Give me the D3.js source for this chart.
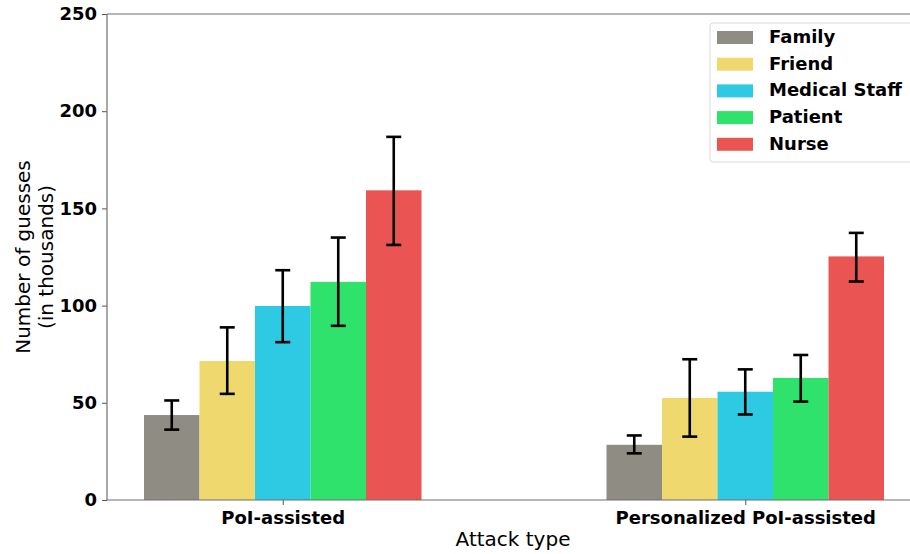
<!DOCTYPE html>
<html>
<head>
<meta charset="utf-8">
<script src="https://cdn.jsdelivr.net/npm/d3@7"></script>
<style>
  body { margin: 0; background: #fff; }
  text { font-family: "DejaVu Sans", sans-serif; }
</style>
</head>
<body>
<svg id="chart" width="910" height="554"></svg>
<script>
// data
var attackTypes = ["PoI-assisted", "Personalized PoI-assisted"];
var roles = ["Family", "Friend", "Medical Staff", "Patient", "Nurse"];
var roleColors = ["#8f8c84", "#efd96e", "#2ec9e3", "#2ee26b", "#ea5553"];
var means = [
  [43.7, 71.5, 99.8, 112.2, 159.3],
  [28.4, 52.5, 55.7, 62.8, 125.3]
];
var errLow = [
  [36.2, 54.6, 81.2, 89.6, 131.2],
  [24.0, 32.6, 44.0, 50.6, 112.4]
];
var errHigh = [
  [51.2, 88.8, 118.2, 135.0, 186.8],
  [33.2, 72.4, 67.2, 74.6, 137.4]
];
var yTicks = [0, 50, 100, 150, 200, 250];

var barW = 0.12;

var svg = d3.select("#chart");

var mLeft = 107, mRight = 921, mTop = 14, mBottom = 500;

var xScale = d3.scaleLinear()
  .domain([-0.38, 1.38])
  .range([mLeft, mRight]);

var yScale = d3.scaleLinear()
  .domain([0, 250])
  .range([mBottom, mTop]);

var bars = [];
means.forEach(function(group, gi){
  group.forEach(function(v, ri){
    bars.push({
      g: gi,
      r: ri,
      x: gi + (ri - 2) * barW,
      v: v,
      lo: errLow[gi][ri],
      hi: errHigh[gi][ri]
    });
  });
});

svg.selectAll("rect.bar")
  .data(bars)
  .enter()
  .append("rect")
  .attr("class", "bar")
  .attr("x", function(d){ return xScale(d.x - barW / 2); })
  .attr("width", function(d){ return xScale(d.x + barW / 2) - xScale(d.x - barW / 2); })
  .attr("y", function(d){ return yScale(d.v); })
  .attr("height", function(d){ return yScale(0) - yScale(d.v); })
  .attr("fill", function(d){ return roleColors[d.r]; });

// error bars
var err = svg.append("g").attr("stroke", "#000").attr("stroke-width", 2.6);
bars.forEach(function(d){
  var cx = xScale(d.x);
  err.append("line")
    .attr("x1", cx).attr("x2", cx)
    .attr("y1", yScale(d.lo)).attr("y2", yScale(d.hi));
  [d.lo, d.hi].forEach(function(e){
    err.append("line")
      .attr("x1", cx - 7.5).attr("x2", cx + 7.5)
      .attr("y1", yScale(e)).attr("y2", yScale(e));
  });
});

// axes
var yAxis = d3.axisLeft(yScale).tickValues(yTicks).tickSize(5).tickPadding(5);
var gy = svg.append("g")
  .attr("transform", "translate(" + mLeft + ",0)")
  .call(yAxis);
gy.select(".domain").remove();
gy.selectAll(".tick line").attr("stroke", "#555");
gy.selectAll(".tick text")
  .attr("font-size", 18)
  .attr("font-weight", "bold")
  .attr("fill", "#000");

var xAxis = d3.axisBottom(xScale)
  .tickValues([0, 1])
  .tickFormat(function(d){ return attackTypes[d]; })
  .tickSize(5).tickPadding(6);
var gx = svg.append("g")
  .attr("transform", "translate(0," + mBottom + ")")
  .call(xAxis);
gx.select(".domain").remove();
gx.selectAll(".tick line").attr("stroke", "#555");
gx.selectAll(".tick text")
  .attr("font-size", 18)
  .attr("font-weight", "bold")
  .attr("fill", "#000");

// spines
var spine = svg.append("g").attr("stroke", "#6e6e6e").attr("stroke-width", 1.2);
spine.append("line").attr("x1", mLeft).attr("x2", mLeft).attr("y1", mTop).attr("y2", mBottom);
spine.append("line").attr("x1", mLeft).attr("x2", mRight).attr("y1", mBottom).attr("y2", mBottom);
spine.append("line").attr("x1", mLeft).attr("x2", mRight).attr("y1", mTop).attr("y2", mTop);
spine.append("line").attr("x1", mRight).attr("x2", mRight).attr("y1", mTop).attr("y2", mBottom);

// axis titles
svg.append("text")
  .attr("x", 513).attr("y", 546)
  .attr("text-anchor", "middle")
  .attr("font-size", 20)
  .text("Attack type");

var yl = svg.append("text")
  .attr("transform", "translate(35," + (mTop + mBottom) / 2 + ") rotate(-90)")
  .attr("text-anchor", "middle")
  .attr("font-size", 20);
yl.append("tspan").attr("x", 0).attr("dy", -5).text("Number of guesses");
yl.append("tspan").attr("x", 0).attr("dy", 23).text("(in thousands)");

// legend
var lg = svg.append("g").attr("transform", "translate(710,23)");
lg.append("rect")
  .attr("x", 0).attr("y", 0)
  .attr("width", 210).attr("height", 139)
  .attr("rx", 3)
  .attr("fill", "#fff")
  .attr("stroke", "#d9d9d9");
roles.forEach(function(r, i){
  var row = lg.append("g").attr("transform", "translate(0," + (14 + i * 26.7) + ")");
  row.append("rect")
    .attr("x", 7).attr("y", -6)
    .attr("width", 36).attr("height", 13)
    .attr("fill", roleColors[i]);
  row.append("text")
    .attr("x", 59).attr("y", 6)
    .attr("font-size", 18)
    .attr("font-weight", "bold")
    .text(r);
});
</script>
</body>
</html>
